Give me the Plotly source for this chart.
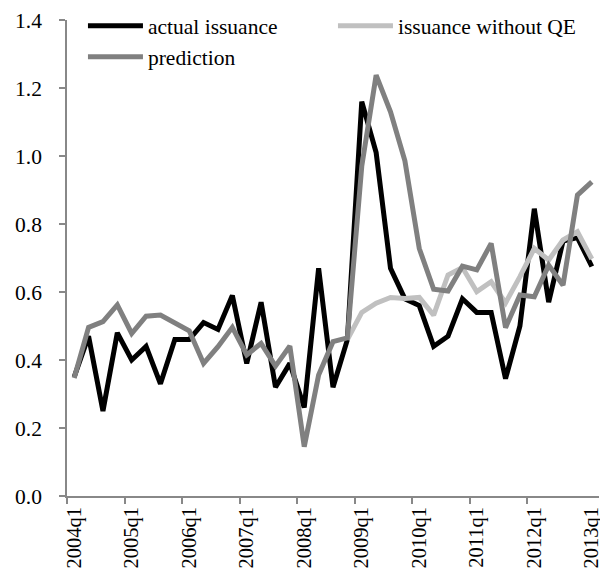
import plotly.graph_objects as go

quarters = [f"{y}q{q}" for y in range(2004, 2013) for q in range(1, 5)] + ["2013q1"]

actual = [0.35, 0.47, 0.25, 0.48, 0.40, 0.44, 0.33, 0.46, 0.46, 0.51,
          0.49, 0.59, 0.39, 0.57, 0.32, 0.39, 0.26, 0.67, 0.32, 0.46,
          1.16, 1.01, 0.67, 0.58, 0.56, 0.44, 0.47, 0.58, 0.54, 0.54,
          0.345, 0.50, 0.845, 0.57, 0.75, 0.76, 0.675]

without_qe = [None] * 19 + [0.46,
              0.54, 0.567, 0.584, 0.581, 0.584, 0.532, 0.65, 0.672, 0.601, 0.63,
              0.568, 0.645, 0.728, 0.694, 0.753, 0.777, 0.697]

prediction = [0.347, 0.496, 0.513, 0.562, 0.478, 0.529, 0.532, 0.51, 0.486, 0.39,
              0.439, 0.496, 0.415, 0.449, 0.382, 0.441, 0.145, 0.356, 0.454, 0.465,
              0.97, 1.238, 1.13, 0.986, 0.728, 0.608, 0.603, 0.676, 0.665, 0.743,
              0.495, 0.591, 0.586, 0.679, 0.62, 0.885, 0.924]

label_every = 4
idx = list(range(len(quarters)))
tickvals = idx[::label_every]
ticktext = quarters[::label_every]
boundary_ticks = [i - 0.5 for i in tickvals if i < len(quarters) - 1]

font_family = "Liberation Serif, Times New Roman, serif"
axis_color = "#888888"

fig = go.Figure()
fig.add_trace(go.Scatter(x=idx, y=actual, mode="lines", name="actual issuance",
                         line=dict(color="#000000", width=5)))
fig.add_trace(go.Scatter(x=idx, y=without_qe, mode="lines", name="issuance without QE",
                         line=dict(color="#c0c0c0", width=5)))
fig.add_trace(go.Scatter(x=idx, y=prediction, mode="lines", name="prediction",
                         line=dict(color="#808080", width=5)))

# page body has an 8px default margin, so the figure is 8px smaller on each axis
fig.update_layout(
    width=600, height=567,
    margin=dict(l=59, r=9, t=12, b=79, autoexpand=False),
    paper_bgcolor="white", plot_bgcolor="white",
    font=dict(family=font_family, size=21.5, color="black"),
    showlegend=True,
    legend=dict(orientation="h", x=0.03, y=1.031, xanchor="left", yanchor="top",
                entrywidth=180, entrywidthmode="pixels",
                font=dict(size=21.5), bgcolor="rgba(0,0,0,0)",
                itemwidth=55),
    xaxis=dict(range=[-0.5, len(quarters) - 0.5], tickmode="array",
               tickvals=tickvals, ticktext=ticktext, tickangle=-90,
               ticks="", showgrid=False, zeroline=False, automargin=False,
               showline=True, linecolor=axis_color, linewidth=1.5,
               ticklabelstandoff=1,
               tickfont=dict(size=20.5),
               minor=dict(tickmode="array", tickvals=boundary_ticks,
                          ticks="outside", ticklen=6, tickcolor=axis_color,
                          tickwidth=1.5, showgrid=False)),
    yaxis=dict(range=[0, 1.4], tickmode="linear", tick0=0, dtick=0.2,
               tickformat=".1f", ticks="outside", ticklen=6,
               tickcolor=axis_color, tickwidth=1.5, automargin=False,
               showgrid=False, zeroline=False,
               showline=True, linecolor=axis_color, linewidth=1.5,
               ticklabelstandoff=13,
               tickfont=dict(size=21.5)),
)

fig.write_html("out.html")
